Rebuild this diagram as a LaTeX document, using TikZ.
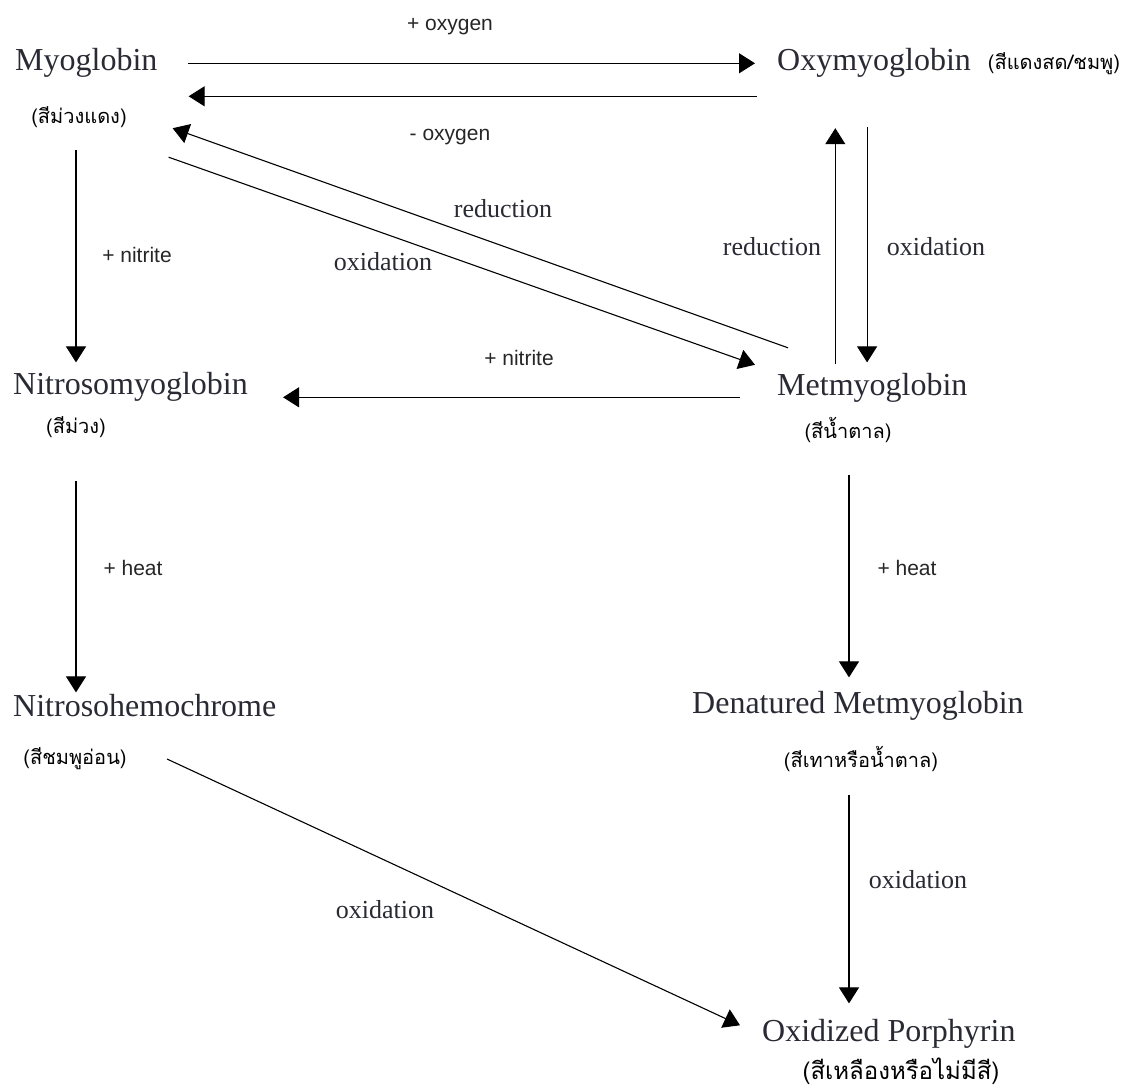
\documentclass[tikz,border=0pt]{standalone}
\usepackage{fontspec}
\usepackage{xcolor}
\usepackage{tikz}
\usetikzlibrary{arrows.meta,positioning}
\setmainfont{Liberation Serif}
\newfontfamily\thaifont[Script=Thai]{Loma}
\newfontfamily\labelfont{Liberation Sans}
\definecolor{ink}{HTML}{2A2A35}

\begin{document}
\begin{tikzpicture}[
        x=1pt, y=-1pt,
        pigment/.style={anchor=base west, inner sep=0pt, text height=22.4pt, text depth=7pt, text=ink, font=\fontsize{32}{38}\selectfont},
        shade/.style={inner sep=0pt, font=\thaifont\fontsize{20}{24}\selectfont},
        agent/.style={inner sep=0pt, text=black!85, font=\labelfont\fontsize{21}{25}\selectfont},
        process/.style={inner sep=0pt, text=ink, font=\fontsize{26}{30}\selectfont},
        arrow/.style={-{Triangle[length=16pt,width=20pt]}, line width=1.1pt}
    ]
        \useasboundingbox (0,0) rectangle (1125,1089);
        \node[pigment] (myo) at (15,71) {Myoglobin};
        \node[pigment] (oxy) at (777,71) {Oxymyoglobin};
        \node[pigment] (nsm) at (13,394) {Nitrosomyoglobin};
        \node[pigment] (met) at (777,395) {Metmyoglobin};
        \node[pigment] (nhc) at (13,716) {Nitrosohemochrome};
        \node[pigment] (dmet) at (692,713) {Denatured Metmyoglobin};
        \node[pigment] (opor) at (762,1041) {Oxidized Porphyrin};
        \node[shade] (myoT) at (79,117) {(สีม่วงแดง)};
        \node[shade] (oxyT) at (1054,64) {(สีแดงสด/ชมพู)};
        \node[shade] (nsmT) at (76,427) {(สีม่วง)};
        \node[shade] (metT) at (848,430) {(สีน้ำตาล)};
        \node[shade] (nhcT) at (75,759) {(สีชมพูอ่อน)};
        \node[shade] (dmetT) at (861,759) {(สีเทาหรือน้ำตาล)};
        \node[shade, font=\thaifont\fontsize{24}{28}\selectfont] (oporT) at (901,1071) {(สีเหลืองหรือไม่มีสี)};
        \node[agent] (oxyIn) at (450,27) {+ oxygen};
        \node[agent] (oxyOut) at (450,137) {- oxygen};
        \node[agent] (nitA) at (137,255) {+ nitrite};
        \node[agent] (nitB) at (519,358) {+ nitrite};
        \node[agent] (heatA) at (133,568) {+ heat};
        \node[agent] (heatB) at (907,568) {+ heat};
        \node[process] (redA) at (503,209) {reduction};
        \node[process] (oxA) at (383,262) {oxidation};
        \node[process] (redB) at (772,247) {reduction};
        \node[process] (oxB) at (936,247) {oxidation};
        \node[process] (oxC) at (918,880) {oxidation};
        \node[process] (oxD) at (385,910) {oxidation};
        \draw[arrow, shorten <=30pt, shorten >=22pt] (myo.east) -- (oxy.west);
        \draw[arrow, shorten <=20pt, shorten >=31pt] ([yshift=-33pt]oxy.west) -- ([yshift=-33pt]myo.east);
        \draw[arrow, shorten <=33pt, shorten >=9pt] ([xshift=-3pt]myoT.center) -- ([xshift=-3pt]myoT.center |- nsm.north);
        \draw[arrow, shorten <=43pt, shorten >=1pt] (nsmT) -- (nsmT |- nhc.north);
        \draw[arrow, shorten <=37pt, shorten >=35pt] ([yshift=-10pt]met.west) -- ([yshift=-10pt]met.west -| nsm.east);
        \draw[arrow, shorten <=8pt, shorten >=50pt] ([xshift=-37pt]met.north) -- ([xshift=-37pt]met.north |- oxy.south);
        \draw[arrow, shorten <=49pt, shorten >=10pt] ([xshift=-7pt]oxy.south) -- ([xshift=-7pt]oxy.south |- met.north);
        \draw[arrow] ([xshift=11pt,yshift=24.6pt]met.north west) -- ([xshift=15pt,yshift=-50pt]myo.south east);
        \draw[arrow] ([xshift=11pt,yshift=-79pt]myo.south east) -- ([xshift=-22pt,yshift=7.6pt]met.north west);
        \draw[arrow, shorten <=45pt, shorten >=13pt] ([xshift=1pt]metT.center) -- ([xshift=1pt]metT.center |- dmet.north);
        \draw[arrow, shorten <=36pt, shorten >=15pt] ([xshift=-12pt]dmetT.center) -- ([xshift=-12pt]dmetT.center |- opor.north);
        \draw[arrow] ([xshift=92pt]nhcT.center) -- ([xshift=-22pt,yshift=8pt]opor.west);
    \end{tikzpicture}
\end{document}
